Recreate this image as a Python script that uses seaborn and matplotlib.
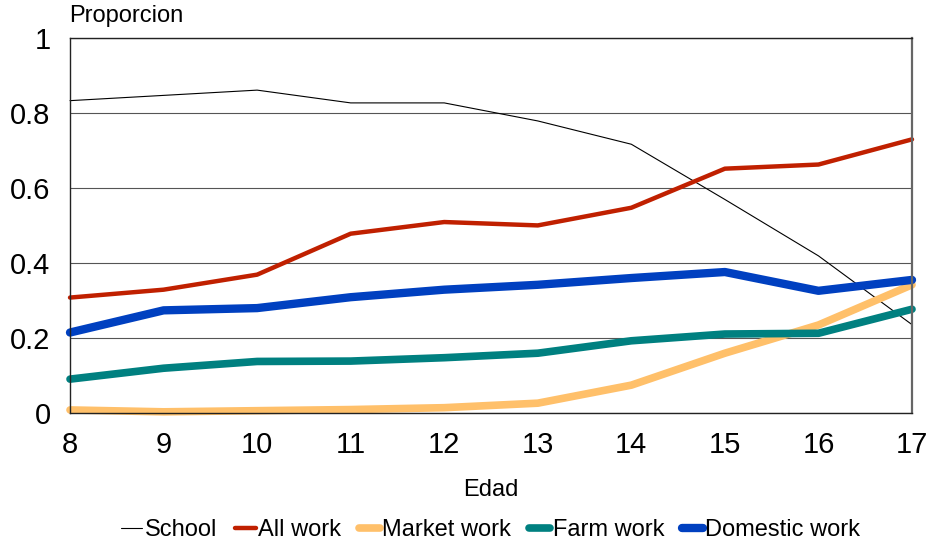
import matplotlib
matplotlib.use("Agg")
import matplotlib.pyplot as plt
import pandas as pd
import seaborn as sns

# Data
ages = [8, 9, 10, 11, 12, 13, 14, 15, 16, 17]
school = [0.832, 0.846, 0.860, 0.826, 0.826, 0.778, 0.716, 0.569, 0.419, 0.236]
all_work = [0.308, 0.329, 0.369, 0.478, 0.509, 0.500, 0.547, 0.651, 0.662, 0.729]
market_work = [0.009, 0.004, 0.007, 0.010, 0.015, 0.027, 0.075, 0.160, 0.235, 0.342]
farm_work = [0.091, 0.120, 0.138, 0.139, 0.148, 0.160, 0.193, 0.211, 0.213, 0.277]
domestic_work = [0.215, 0.274, 0.280, 0.309, 0.329, 0.342, 0.360, 0.376, 0.326, 0.355]

series_names = ["School", "All work", "Market work", "Farm work", "Domestic work"]
colors = ["#000000", "#C02000", "#FFC06A", "#008080", "#0040C0"]
widths = [0.8, 3.2, 5.5, 5.5, 6.0]

sns.set_style("white")
plt.rcParams["font.family"] = ["Liberation Sans", "DejaVu Sans"]
plt.rcParams["text.color"] = "black"
plt.rcParams["xtick.color"] = "black"
plt.rcParams["ytick.color"] = "black"
plt.rcParams["axes.labelcolor"] = "black"

df = pd.DataFrame({"Edad": ages, "School": school, "All work": all_work,
                   "Market work": market_work, "Farm work": farm_work,
                   "Domestic work": domestic_work})

fig = plt.figure(figsize=(9.31, 5.46), dpi=100)
ax = fig.add_axes([0.0752, 0.243, 0.9044, 0.6883])

for name, c, w in zip(series_names, colors, widths):
    sns.lineplot(data=df, x="Edad", y=name, color=c, linewidth=w, label=name,
                 ax=ax, solid_capstyle="round", clip_on=False)

ax.set_xlim(8, 17)
ax.set_ylim(0, 1)
ax.set_xticks(ages)
ax.set_yticks([0, 0.2, 0.4, 0.6, 0.8, 1])
ax.set_yticklabels(["0", "0.2", "0.4", "0.6", "0.8", "1"])
ax.tick_params(axis="both", labelsize=21, length=0)
ax.tick_params(axis="x", pad=13)
ax.tick_params(axis="y", pad=14)
ax.yaxis.grid(True, color="#555555", linewidth=0.8)
ax.set_axisbelow(True)
for s in ax.spines.values():
    s.set_color("#222222")
    s.set_linewidth(1.0)
ax.spines["right"].set_color("#666666")
ax.spines["right"].set_linewidth(1.6)

ax.set_xlabel("Edad", fontsize=17, labelpad=14)
ax.set_ylabel("")
fig.text(0.074, 0.95, "Proporcion", fontsize=17, ha="left", va="bottom")

ax.get_legend().remove()
handles, labels = ax.get_legend_handles_labels()
fig.legend(handles, labels, loc="center", bbox_to_anchor=(0.527, 0.029), ncol=5,
           frameon=False, fontsize=17, handlelength=0.9, handletextpad=0.1,
           columnspacing=0.75)

fig.savefig("out.png", dpi=100)
